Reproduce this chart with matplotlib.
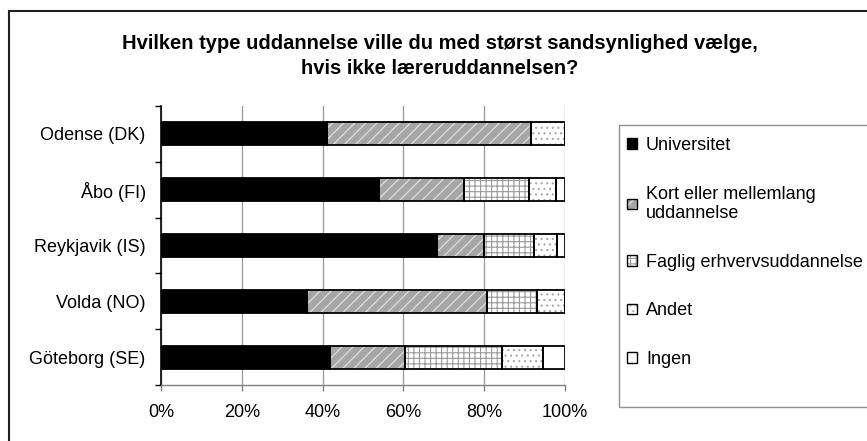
import matplotlib

matplotlib.use("Agg")
import matplotlib.pyplot as plt
from matplotlib.patches import Patch, Rectangle

plt.rcParams["font.family"] = ["Liberation Sans", "DejaVu Sans"]
plt.rcParams["hatch.linewidth"] = 0.8

# data (percent of respondents)
cities = ["Odense (DK)", "Åbo (FI)", "Reykjavik (IS)", "Volda (NO)", "Göteborg (SE)"]
universitet = [41.0, 54.0, 68.2, 36.2, 41.8]
kort = [50.6, 21.1, 11.7, 44.6, 18.6]
faglig = [0.0, 16.1, 12.5, 12.3, 24.1]
andet = [8.4, 6.5, 5.6, 6.9, 10.1]
ingen = [0.0, 2.3, 2.0, 0.0, 5.4]

series = [
    ("Universitet", universitet),
    ("Kort eller mellemlang\nuddannelse", kort),
    ("Faglig erhvervsuddannelse", faglig),
    ("Andet", andet),
    ("Ingen", ingen),
]
# (face colour, hatch, hatch colour)
styles = [
    ("black", None, None),
    ("#a6a6a6", "///", "#e6e6e6"),
    ("white", "+++", "#9a9a9a"),
    ("white", "...", "#a8a8a8"),
    ("white", None, None),
]

W, H = 867, 441
fig = plt.figure(figsize=(W / 100, H / 100), dpi=100)
ax = fig.add_axes([161 / W, 1 - 385 / H, (565 - 161) / W, (385 - 106) / H])

ypos = list(range(len(cities)))
left = [0.0] * len(cities)
handles = []
for (label, values), (face, hatch, hcol) in zip(series, styles):
    ax.barh(ypos, values, left=left, height=0.41, color=face, linewidth=0, zorder=2)
    if hatch:
        ax.barh(ypos, values, left=left, height=0.41, color="none", hatch=hatch,
                edgecolor=hcol, linewidth=0, zorder=3)
    ax.barh(ypos, values, left=left, height=0.41, color="none", edgecolor="black",
            linewidth=1.3, zorder=4)
    left = [a + b for a, b in zip(left, values)]
    parts = [Patch(facecolor=face, linewidth=0)]
    if hatch:
        parts.append(Patch(facecolor="none", hatch=hatch, edgecolor=hcol, linewidth=0))
    parts.append(Patch(facecolor="none", edgecolor="black", linewidth=1.0))
    handles.append(tuple(parts))

ax.set_xlim(0, 100)
ax.set_ylim(len(cities) - 0.5, -0.5)
ax.set_xticks([0, 20, 40, 60, 80, 100])
ax.set_xticklabels(["0%", "20%", "40%", "60%", "80%", "100%"])
ax.set_yticks(ypos)
ax.set_yticklabels(cities)
ax.set_yticks([i + 0.5 for i in range(-1, len(cities))], minor=True)
ax.tick_params(axis="y", which="major", length=0, pad=11, labelsize=13)
ax.tick_params(axis="y", which="minor", length=4, width=1, color="black", direction="out")
ax.tick_params(axis="x", length=4, width=1, color="#808080", pad=10, labelsize=13)
ax.xaxis.grid(True, color="#a0a0a0", linewidth=1, zorder=0)
ax.set_axisbelow(True)
for side in ("top", "right"):
    ax.spines[side].set_visible(False)
ax.spines["left"].set_color("black")
ax.spines["left"].set_linewidth(1.2)
ax.spines["bottom"].set_color("#808080")
ax.spines["bottom"].set_linewidth(1)

fig.text(440 / W, 1 - 56 / H,
         "Hvilken type uddannelse ville du med størst sandsynlighed vælge,\nhvis ikke læreruddannelsen?",
         ha="center", va="center", fontsize=14.5, fontweight="bold", linespacing=1.35)

# legend box and entries
fig.patches.append(Rectangle((619 / W, 1 - 407 / H), 300 / W, (407 - 125) / H,
                             transform=fig.transFigure, facecolor="none",
                             edgecolor="#909090", linewidth=1))
fig.legend(handles, [s[0] for s in series], loc="upper left",
           bbox_to_anchor=(627 / W, 1 - 137 / H), bbox_transform=fig.transFigure,
           frameon=False, borderpad=0, borderaxespad=0, fontsize=13,
           handlelength=0.55, handleheight=0.55, handletextpad=0.5, labelspacing=1.75)

# outer chart frame
fig.patches.append(Rectangle((9 / W, -0.1), 1.2, 1.1 - 11 / H, transform=fig.transFigure,
                             facecolor="none", edgecolor="#202020", linewidth=1.5))

fig.savefig("out.png", dpi=100)
